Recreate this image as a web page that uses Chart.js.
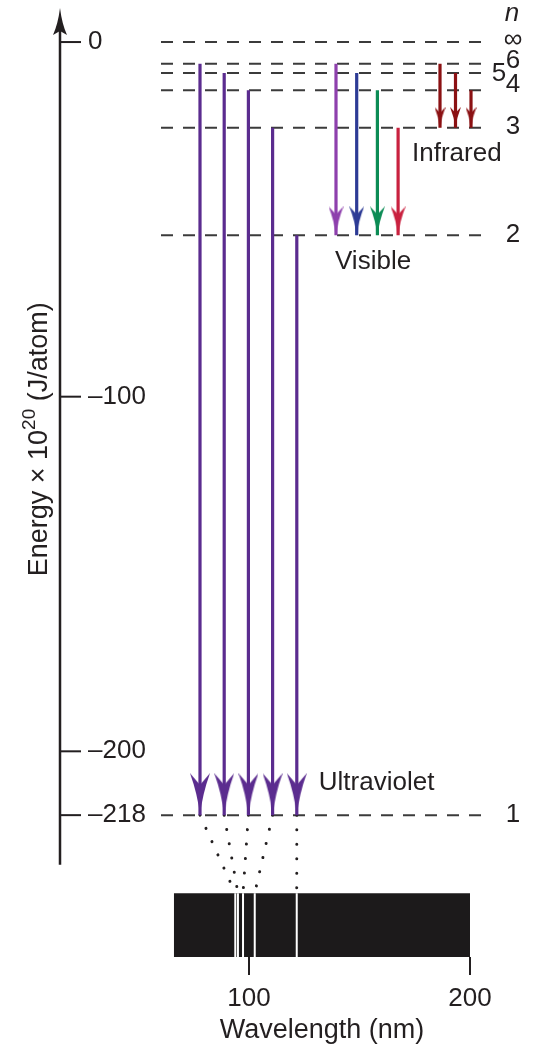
<!DOCTYPE html>
<html>
<head>
<meta charset="utf-8">
<script src="https://cdn.jsdelivr.net/npm/chart.js@4.4.1/dist/chart.umd.min.js"></script>
<style>
  html, body { margin: 0; padding: 0; background: #fff; }
  canvas { display: block; }
</style>
</head>
<body>
<canvas id="levelChart" width="539" height="1048"></canvas>
<script>
// hydrogen energy levels, energy x 10^20 (J/atom)
const levelN = ['1', '2', '3', '4', '5', '6', '∞'];
const levelEnergy = [-218, -54.5, -24.2, -13.6, -8.7, -6.1, 0];
const energyTicks = [0, -100, -200, -218];

// transitions (upper level), lower level is 1, 2, 3
const lymanFrom = [6, 5, 4, 3, 2];
const balmerFrom = [6, 5, 4, 3];
const paschenFrom = [6, 5, 4];

// lyman lines (nm), same order as lymanFrom
const lymanWavelength = [93.8, 95.0, 97.3, 102.6, 121.6];
const spectrumRange = [66, 200];
const wavelengthTicks = [100, 200];

// layout
const X_MIN = 60, X_MAX = 539;
const NM_MIN = 14.5, NM_MAX = 231.2;
const Y_MIN = -258, Y_MAX = 9.6;
const BAR_TOP = -240;
const AXIS_BOTTOM = -232;
const levelLineX = [161, 483];
const ink = '#231f20';
const fontFamily = '"Liberation Sans", Arial, Helvetica, sans-serif';

const arrowGroups = [
  {from: lymanFrom, to: 1, x0: 200, step: 24.2, colors: ['#5b2c8f'], head: [20, 42]},
  {from: balmerFrom, to: 2, x0: 336, step: 20.7, colors: ['#8e40ad', '#2d3b95', '#0c8c55', '#c9213f'], head: [15, 29]},
  {from: paschenFrom, to: 3, x0: 440, step: 15.5, colors: ['#8b1113'], head: [11, 21]}
];

const energyOf = n => levelEnergy[levelN.indexOf(String(n))];
const nmAt = x => NM_MIN + (x - X_MIN) / (X_MAX - X_MIN) * (NM_MAX - NM_MIN);

function makeHead(color, w, h) {
  const c = document.createElement('canvas');
  c.width = w;
  c.height = 2 * h;
  const g = c.getContext('2d');
  g.fillStyle = color;
  g.beginPath();
  g.moveTo(w / 2, h);
  g.quadraticCurveTo(w * 0.38, h * 0.5, 0, 0);
  g.lineTo(w / 2, h * 0.28);
  g.lineTo(w, 0);
  g.quadraticCurveTo(w * 0.62, h * 0.5, w / 2, h);
  g.fill();
  return c;
}

// drop the label padding chart.js reserves, the layout is set by hand
function noPadding(s) {
  s.paddingTop = 0;
  s.paddingBottom = 0;
  s.paddingLeft = 0;
  s.paddingRight = 0;
}

const datasets = [];

arrowGroups.forEach(g => {
  g.from.forEach((n, i) => {
    const color = g.colors[i % g.colors.length];
    const xPos = g.x0 + i * g.step;
    datasets.push({
      data: [{x: xPos, y: energyOf(n)}, {x: xPos, y: energyOf(g.to)}],
      borderColor: color,
      borderWidth: 3.2,
      pointStyle: makeHead(color, g.head[0], g.head[1]),
      pointRadius: [0, 1],
      order: 0
    });
  });
});

// dotted lines from the lyman arrows down to the spectrum
lymanFrom.forEach((n, i) => {
  const xPos = arrowGroups[0].x0 + i * arrowGroups[0].step;
  datasets.push({
    xAxisID: 'xw',
    data: [{x: nmAt(xPos), y: energyOf(1)}, {x: lymanWavelength[i], y: BAR_TOP}],
    borderColor: ink,
    borderWidth: 3,
    borderDash: [0.01, 14.5],
    borderCapStyle: 'round',
    pointRadius: 0,
    order: 1
  });
});

// spectral lines
const lineData = [];
lymanWavelength.forEach(w => {
  lineData.push({x: w, y: BAR_TOP}, {x: w, y: Y_MIN}, {x: w, y: null});
});
datasets.push({
  xAxisID: 'xw',
  data: lineData,
  borderColor: '#ffffff',
  borderWidth: 2,
  pointRadius: 0,
  spanGaps: false,
  order: 2
});

// spectrum bar
datasets.push({
  xAxisID: 'xw',
  data: [{x: spectrumRange[0], y: BAR_TOP}, {x: spectrumRange[1], y: BAR_TOP}],
  borderWidth: 0,
  borderColor: 'rgba(0,0,0,0)',
  backgroundColor: '#1c1a1b',
  fill: {value: Y_MIN},
  pointRadius: 0,
  order: 3
});

// energy levels
levelEnergy.forEach(e => {
  datasets.push({
    data: [{x: levelLineX[0], y: e}, {x: levelLineX[1], y: e}],
    borderColor: '#3b3b3b',
    borderWidth: 2,
    borderDash: [12, 10],
    pointRadius: 0,
    order: 4
  });
});

const labelShift = {'6': [0, -3], '5': [-14, 1], '4': [0, -5], '3': [0, -1]};

const decor = {
  id: 'decor',
  afterDatasetsDraw(chart) {
    const {ctx, chartArea, scales: {x, y, xw}} = chart;
    const px = v => x.getPixelForValue(v);
    const py = v => y.getPixelForValue(v);
    const ax = chartArea.left;
    ctx.save();
    ctx.strokeStyle = ink;
    ctx.fillStyle = ink;

    // energy axis with arrow
    ctx.lineWidth = 2.5;
    ctx.beginPath();
    ctx.moveTo(ax, py(AXIS_BOTTOM));
    ctx.lineTo(ax, chartArea.top + 20);
    ctx.stroke();
    const t = chartArea.top;
    ctx.beginPath();
    ctx.moveTo(ax, t);
    ctx.quadraticCurveTo(ax - 2, t + 16, ax - 7, t + 27);
    ctx.lineTo(ax, t + 23);
    ctx.lineTo(ax + 7, t + 27);
    ctx.quadraticCurveTo(ax + 2, t + 16, ax, t);
    ctx.fill();

    // tick marks
    ctx.lineWidth = 2;
    energyTicks.forEach(v => {
      ctx.beginPath();
      ctx.moveTo(ax, py(v));
      ctx.lineTo(ax + 21, py(v));
      ctx.stroke();
    });

    // energy title with superscript
    ctx.save();
    ctx.translate(38, py(-112));
    ctx.rotate(-Math.PI / 2);
    ctx.textBaseline = 'middle';
    ctx.textAlign = 'left';
    const big = '27px ' + fontFamily, small = '19px ' + fontFamily;
    const p1 = 'Energy \u00d7 10', p2 = '20', p3 = ' (J/atom)';
    ctx.font = big;
    const w1 = ctx.measureText(p1).width, w3 = ctx.measureText(p3).width;
    ctx.font = small;
    const w2 = ctx.measureText(p2).width;
    let sx = -(w1 + w2 + w3) / 2;
    ctx.font = big;
    ctx.fillText(p1, sx, 2);
    ctx.font = small;
    ctx.fillText(p2, sx + w1, -8);
    ctx.font = big;
    ctx.fillText(p3, sx + w1 + w2, 2);
    ctx.restore();

    // level numbers
    ctx.font = '26px ' + fontFamily;
    ctx.textAlign = 'center';
    ctx.textBaseline = 'middle';
    levelN.forEach((n, i) => {
      const s = labelShift[n] || [0, 0];
      const e = levelEnergy[i];
      ctx.fillText(n, 513 + s[0], py(e) + s[1] + (n === '∞' ? -2 : 0));
    });
    ctx.font = 'italic 26px ' + fontFamily;
    ctx.fillText('n', 512, chartArea.top + 6);

    // region labels
    ctx.font = '26px ' + fontFamily;
    ctx.textAlign = 'left';
    const ly = arrowGroups[0], bl = arrowGroups[1], pa = arrowGroups[2];
    ctx.fillText('Ultraviolet', px(ly.x0 + (ly.from.length - 1) * ly.step) + 22, py(energyOf(1)) - 32);
    ctx.fillText('Visible', px(bl.x0) - 1, py(energyOf(2)) + 27);
    ctx.fillText('Infrared', px(pa.x0) - 28, py(energyOf(3)) + 26);

    // wavelength title centred under the spectrum
    ctx.font = '27px ' + fontFamily;
    ctx.textAlign = 'center';
    ctx.fillText('Wavelength (nm)', xw.getPixelForValue((spectrumRange[0] + spectrumRange[1]) / 2), 1031);
    ctx.restore();
  }
};

Chart.defaults.font.family = fontFamily;
Chart.defaults.color = ink;

new Chart(document.getElementById('levelChart'), {
  type: 'line',
  data: {datasets: datasets},
  options: {
    responsive: false,
    animation: false,
    events: [],
    layout: {autoPadding: false, padding: {left: 60, top: 8, right: 0, bottom: 0}},
    plugins: {legend: {display: false}, tooltip: {enabled: false}},
    scales: {
      x: {type: 'linear', display: false, min: X_MIN, max: X_MAX},
      xw: {
        type: 'linear',
        position: 'bottom',
        min: NM_MIN,
        max: NM_MAX,
        afterBuildTicks: s => { s.ticks = wavelengthTicks.map(v => ({value: v})); },
        afterFit: s => { s.height = 91; noPadding(s); },
        border: {display: false},
        grid: {drawOnChartArea: false, drawTicks: true, tickLength: 18, color: ink, lineWidth: 2},
        ticks: {padding: 8, color: ink, font: {size: 26}, maxRotation: 0, autoSkip: false}
      },
      y: {
        type: 'linear',
        min: Y_MIN,
        max: Y_MAX,
        afterBuildTicks: s => { s.ticks = energyTicks.map(v => ({value: v})); },
        afterFit: s => { s.width = 0; noPadding(s); },
        border: {display: false},
        grid: {display: false, drawTicks: false},
        ticks: {
          mirror: true,
          padding: 28,
          color: ink,
          autoSkip: false,
          font: {size: 26},
          callback: v => v === 0 ? '0' : '\u2013' + Math.abs(v)
        }
      }
    }
  },
  plugins: [decor]
});
</script>
</body>
</html>
